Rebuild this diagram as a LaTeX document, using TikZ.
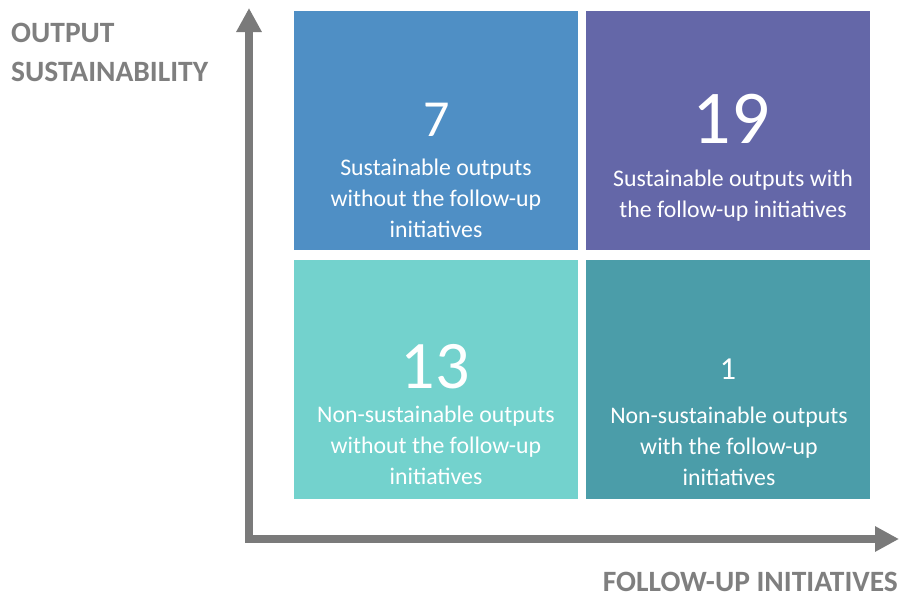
\documentclass[tikz,border=0pt]{standalone}
\usepackage{fontspec}
\setmainfont{Carlito}
\usetikzlibrary{arrows.meta}
\definecolor{qblue}{HTML}{4F8FC5}
\definecolor{qpurple}{HTML}{6467A8}
\definecolor{qlight}{HTML}{73D2CD}
\definecolor{qteal}{HTML}{4B9DA9}
\definecolor{axisgray}{HTML}{7A7A7A}
\definecolor{labelgray}{HTML}{7F7F7F}
\begin{document}
\begin{tikzpicture}[x=1pt,y=-1pt,
	quad/.style={inner sep=0,outer sep=0,minimum width=284pt,minimum height=239pt,anchor=north west},
	num/.style={text=white,inner sep=0,anchor=base},
	desc/.style={text=white,inner sep=0,anchor=base,align=center,font=\fontsize{23.8}{31}\selectfont},
	axislabel/.style={text=labelgray,inner sep=0,anchor=base west,align=left,font=\fontsize{29.5}{39}\selectfont\bfseries}]
	\useasboundingbox (0,0) rectangle (899,597);
	\node[quad,fill=qblue] (tl) at (294,11) {};
	\node[quad,fill=qpurple] (tr) at (586,11) {};
	\node[quad,fill=qlight] (bl) at (294,260) {};
	\node[quad,fill=qteal] (br) at (586,260) {};
	\node[num,font=\fontsize{52}{52}\selectfont] (ntl) at (437,136) {7};
	\node[num,font=\fontsize{76}{76}\selectfont] (ntr) at (731,143) {19};
	\node[num,font=\fontsize{68}{68}\selectfont] (nbl) at (435,388) {13};
	\node[num,font=\fontsize{32}{32}\selectfont] (nbr) at (728,379) {1};
	\node[desc] (dtl) at (436,237) {Sustainable outputs\\without the follow-up\\initiatives};
	\node[desc] (dtr) at (733,217) {Sustainable outputs with\\the follow-up initiatives};
	\node[desc] (dbl) at (436,484) {Non-sustainable outputs\\without the follow-up\\initiatives};
	\node[desc] (dbr) at (729,485) {Non-sustainable outputs\\with the follow-up\\initiatives};
	\coordinate (ytip) at (249,8);
	\coordinate (origin) at (249,539);
	\coordinate (xtip) at (899,539);
	\draw[axisgray,line width=8pt,line join=miter,{Triangle[length=24pt,width=24pt]}-{Triangle[length=24pt,width=24pt]}] (ytip) -- (origin) -- (xtip);
	\node[axislabel] (ylabel) at (11,81) {OUTPUT\\SUSTAINABILITY};
	\node[axislabel,anchor=base east] (xlabel) at (898,591) {FOLLOW-UP INITIATIVES};
\end{tikzpicture}
\end{document}
